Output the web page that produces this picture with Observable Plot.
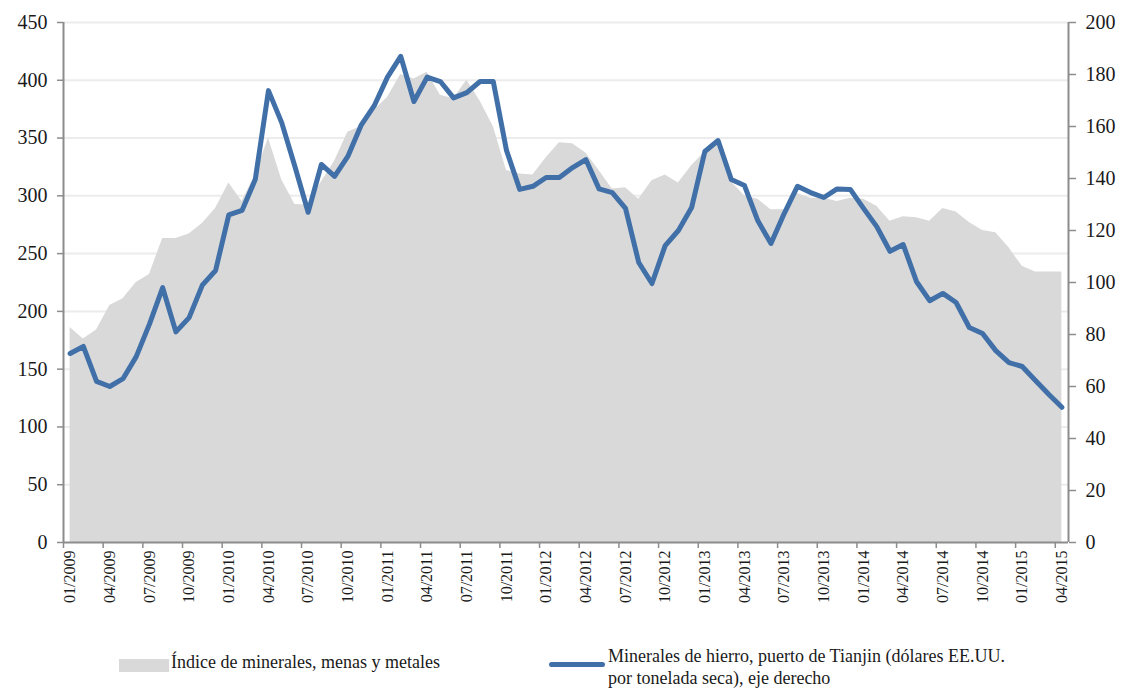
<!DOCTYPE html>
<html>
<head>
<meta charset="utf-8">
<script src="https://cdn.jsdelivr.net/npm/d3@7"></script>
<script src="https://cdn.jsdelivr.net/npm/@observablehq/plot@0.6"></script>
<style>
  body { margin: 0; background: #fff; font-family: "Liberation Serif", "Times New Roman", serif; color: #1a1a1a; }
  #wrap { position: relative; width: 1121px; height: 689px; overflow: hidden; }
  #chart { position: absolute; left: 0; top: 0; }
  #chart svg, #chart svg text { font-family: "Liberation Serif", "Times New Roman", serif !important; }
  .lg { position: absolute; font-size: 18px; line-height: 22px; white-space: nowrap; }
  .swatch-area { position: absolute; left: 119px; top: 659px; width: 50px; height: 13px; background: #d9d9d9; }
  .swatch-line { position: absolute; left: 549px; top: 662px; width: 56px; height: 5px; background: #4170a8; border-radius: 3px; }
</style>
</head>
<body>
<div id="wrap">
  <div id="chart"></div>
  <div class="swatch-area"></div>
  <div class="lg" style="left:171px; top:651px;">Índice de minerales, menas y metales</div>
  <div class="swatch-line"></div>
  <div class="lg" style="left:608px; top:645px;">Minerales de hierro, puerto de Tianjin (dólares EE.UU.<br>por tonelada seca), eje derecho</div>
</div>
<script>
const tickLabels = ["01/2009","04/2009","07/2009","10/2009","01/2010","04/2010","07/2010","10/2010",
  "01/2011","04/2011","07/2011","10/2011","01/2012","04/2012","07/2012","10/2012",
  "01/2013","04/2013","07/2013","10/2013","01/2014","04/2014","07/2014","10/2014",
  "01/2015","04/2015"];

// Índice de minerales, menas y metales (eje izquierdo), mensual 01/2009 - 04/2015
const indexValues = [186,176,184,205,211,225,232,263,263,267,276,289,
  311,295,318,350,314,292.5,292,312,330,355,360,374,
  385,405,401,407,387,384,400,382,360,322,319,318,
  333,346,345,337,322,306,307,297,313,318,311,326,
  338,346,312,300,297,288,288,302,298,298,295,298,
  297,291,278,282,281,278,289,286,277,270,268,255,
  239,234,234,234];

// Minerales de hierro, puerto de Tianjin (USD por tonelada seca, eje derecho)
const ironValues = [72.7,75.4,62,60,63,71.5,84,98,81,86.5,99,104.6,
  126,127.7,139.6,173.8,161.5,144.6,127,145.4,140.8,148.5,160.4,168,
  179,187,169.6,179,177.3,171,173,177.3,177.3,150.8,135.8,137,
  140.4,140.4,144.2,147.3,136,134.6,128.5,107.7,99.6,114.2,120,128.8,
  150.4,154.6,139.6,137.3,123.8,115,126.5,137,134.6,132.7,136,135.8,
  128.5,121.5,112,114.6,100.4,93,95.8,92.3,82.7,80.4,73.8,69.2,
  67.7,62.3,57,52];

const leftTicks = [0,50,100,150,200,250,300,350,400,450];
const rightTicks = [0,20,40,60,80,100,120,140,160,180,200];

const data = indexValues.map((v, i) => ({i, index: v, iron: ironValues[i]}));
const k = 450 / 200; // right axis -> left axis
const labelPos = tickLabels.map((_, j) => j * 3);
const boundaryPos = tickLabels.map((_, j) => j * 3 - 0.5);

const axisColor = "#8c8c8c";
const chart = Plot.plot({
  width: 1121,
  height: 620,
  marginLeft: 63,
  marginRight: 53,
  marginTop: 22,
  marginBottom: 78,
  x: {type: "linear", domain: [-0.5, 75.5]},
  y: {domain: [0, 450]},
  style: {fontFamily: "'Liberation Serif', 'Times New Roman', serif", fontSize: "17px", color: "#1a1a1a", background: "#fff"},
  marks: [
    Plot.gridY(leftTicks.slice(1), {stroke: "#ececec", strokeOpacity: 1, strokeWidth: 2}),
    Plot.areaY(data, {x: "i", y: "index", fill: "#d9d9d9"}),
    Plot.lineY(data, {x: "i", y: d => d.iron * k, stroke: "#4170a8", strokeWidth: 5, strokeLinejoin: "round", strokeLinecap: "round"}),
    Plot.ruleX([-0.5], {stroke: axisColor, strokeWidth: 2}),
    Plot.ruleX([75.5], {stroke: axisColor, strokeWidth: 2}),
    Plot.ruleY([0], {stroke: axisColor, strokeWidth: 2}),
    Plot.axisY(leftTicks, {anchor: "left", tickSize: 6, tickPadding: 10, stroke: axisColor, strokeWidth: 1.5, fill: "#1a1a1a", fontSize: 20, label: null}),
    Plot.axisY(rightTicks, {anchor: "right", y: d => d * k, tickFormat: d => d, tickSize: 7, tickPadding: 10, stroke: axisColor, strokeWidth: 1.5, fill: "#1a1a1a", fontSize: 20, label: null}),
    Plot.axisX(boundaryPos, {tickSize: 6, tickFormat: () => "", stroke: axisColor, strokeWidth: 1.5, label: null}),
    Plot.axisX(labelPos, {tickSize: 0, tickPadding: 8, tickRotate: -90, tickFormat: d => tickLabels[d / 3], fill: "#1a1a1a", fontSize: 16, label: null})
  ]
});
document.getElementById("chart").appendChild(chart);
</script>
</body>
</html>
